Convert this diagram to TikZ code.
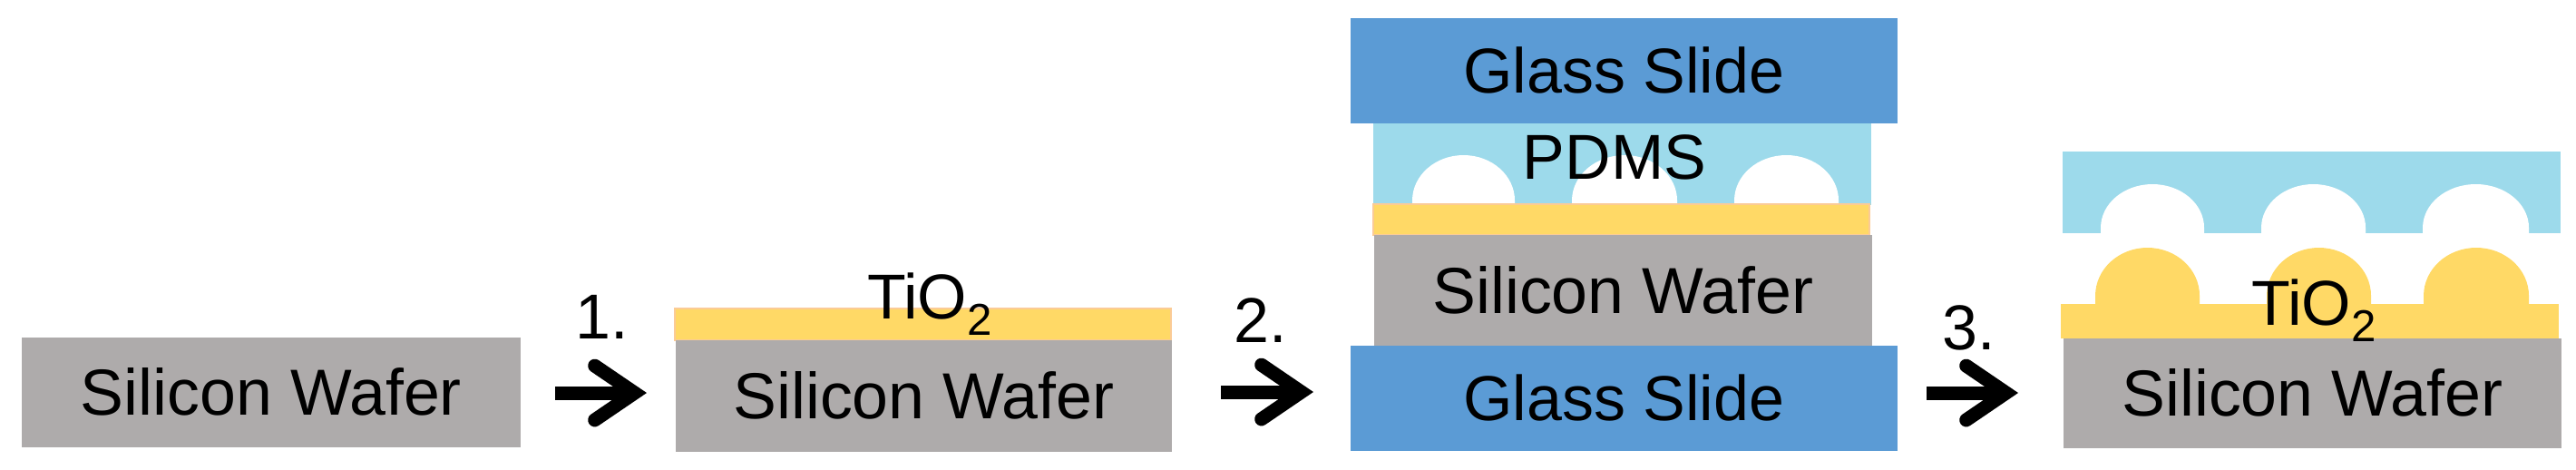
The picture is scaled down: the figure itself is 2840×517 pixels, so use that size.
\documentclass[tikz,border=0pt]{standalone}
\usepackage{fontspec}
\setmainfont{Liberation Sans}
\usetikzlibrary{arrows.meta}
\definecolor{wafergray}{HTML}{AEABAB}
\definecolor{oxideyellow}{HTML}{FFD966}
\definecolor{oxideedge}{HTML}{FBCB96}
\definecolor{slideblue}{HTML}{5B9BD5}
\definecolor{pdmsblue}{HTML}{9DDAEB}
\tikzset{
	layer/.style={anchor=north west, inner sep=0pt, font=\fontsize{19.9}{24}\selectfont},
	wafer/.style={layer, fill=wafergray, minimum width=#1, font=\fontsize{20.4}{24}\selectfont},
	slide/.style={layer, fill=slideblue, minimum width=6.03cm, minimum height=1.16cm},
	label/.style={anchor=base, inner sep=0pt, font=\fontsize{19.9}{24}\selectfont},
	oxidefilm/.style={fill=oxideyellow, draw=oxideedge, line width=0.8pt},
	steparrow/.style={line width=4.27pt, -{Straight Barb[length=12.5pt, width=17pt, line cap=round, line join=miter]}},
}
\newcommand\oxidelabel{TiO\raisebox{-5.2pt}{\fontsize{14}{14}\selectfont 2}}
\newcommand\simpledome[6]{
	\fill[#1] (#2,#3) -- ++(0,-#6) arc[start angle=180, end angle=360, x radius=#4, y radius=#5] -- ++(0,#6) -- cycle;
}

\begin{document}
\begin{tikzpicture}[x=0.01cm,y=-0.01cm]
		\useasboundingbox (0,0) rectangle (2840,517);
		% bare wafer
		\node[wafer=5.5cm, minimum height=1.21cm] (wafera) at (23,371) {Silicon Wafer};
		\coordinate (arrowastart) at (612,433);
		\coordinate (arrowaend) at (713,433);
		\draw[steparrow] (arrowastart) -- (arrowaend);
		\node[label] (stepa) at (664,373) {1.};
		% coated wafer
		\filldraw[oxidefilm] (744,340) rectangle (1291,375);
		\node[wafer=5.47cm, minimum height=1.23cm] (waferb) at (744,374) {Silicon Wafer};
		\node[label] (oxideb) at (1025,351) {\oxidelabel};
		\coordinate (arrowbstart) at (1346,432);
		\coordinate (arrowbend) at (1448,432);
		\draw[steparrow] (arrowbstart) -- (arrowbend);
		\node[label] (stepb) at (1390,377) {2.};
		% imprint stack
		\fill[pdmsblue] (1514,135) rectangle (2063,226);
		\simpledome{white}{1557}{226}{56.5}{50}{5}
		\simpledome{white}{1733}{226}{58}{50}{5}
		\simpledome{white}{1912}{226}{57.5}{50}{5}
		\filldraw[oxidefilm] (1514,225) rectangle (2061,259);
		\node[wafer=5.49cm, minimum height=1.22cm] (waferc) at (1514,258) {Silicon Wafer};
		\node[slide] (slidetop) at (1488,19) {Glass Slide};
		\node[slide] (slidebottom) at (1488,380) {Glass Slide};
		\node[label] (pdms) at (1780,197) {PDMS};
		\coordinate (arrowcstart) at (2124,433);
		\coordinate (arrowcend) at (2225,433);
		\draw[steparrow] (arrowcstart) -- (arrowcend);
		\node[label] (stepc) at (2171,385) {3.};
		% separated result
		\fill[pdmsblue] (2274,167) rectangle (2823,257);
		\simpledome{white}{2316}{257}{57}{48}{6}
		\simpledome{white}{2493}{257}{57.5}{48}{6}
		\simpledome{white}{2671}{257}{58.5}{48}{6}
		\fill[oxideyellow] (2272,335) rectangle (2821,373);
		\simpledome{oxideyellow}{2310}{336}{57.5}{53}{10}
		\simpledome{oxideyellow}{2499}{336}{57.5}{53}{10}
		\simpledome{oxideyellow}{2672}{336}{58}{53}{10}
		\node[wafer=5.49cm, minimum height=1.21cm] (waferd) at (2274,372) {Silicon Wafer};
		\node[label] (oxided) at (2551,358) {\oxidelabel};
\end{tikzpicture}
\end{document}
